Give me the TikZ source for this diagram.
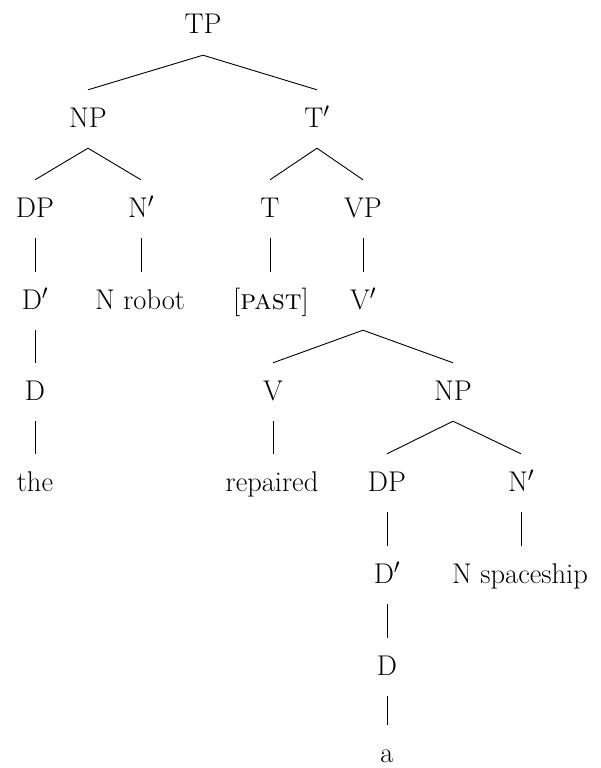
\documentclass[tikz,border=0pt]{standalone}
\begin{document}
\begin{tikzpicture}[x=1pt,y=-1pt,
  lab/.style={anchor=base, inner xsep=2pt, inner ysep=18pt, text height=19pt, text depth=3pt, font=\fontsize{28.5}{31}\selectfont},
  leaf/.style={lab, inner ysep=0pt, text depth=0pt},
  edge/.style={line width=0.9pt}]
\useasboundingbox (0,0) rectangle (601,768);
% row 0
\node[lab] (TP) at (203,34) {TP};
% row 1
\node[lab] (NP1) at (88,127) {NP};
\node[lab] (Tb) at (317,127) {T$'$};
% row 2
\node[lab] (DP1) at (35,217) {DP};
\node[lab] (Nb1) at (141,217) {N$'$};
\node[lab] (T) at (270,217) {T};
\node[lab] (VP) at (363,217) {VP};
% row 3
\node[lab] (Db1) at (35,309) {D$'$};
\node[lab] (Nrobot) at (140,309) {N robot};
\node[lab] (past) at (271,309) {[\textsc{past}]};
\node[lab] (Vb) at (363,309) {V$'$};
% row 4
\node[lab] (D1) at (35,400) {D};
\node[lab] (V) at (273,400) {V};
\node[lab] (NP2) at (453,400) {NP};
% row 5
\node[lab] (the) at (35,491) {the};
\node[lab] (repaired) at (272,491) {repaired};
\node[lab] (DP2) at (387,491) {DP};
\node[lab] (Nb2) at (521,491) {N$'$};
% row 6
\node[lab] (Db2) at (387,583) {D$'$};
\node[lab] (Nspace) at (520,583) {N spaceship};
% row 7
\node[lab] (D2) at (387,675) {D};
% row 8
\node[leaf] (a) at (387,762) {a};
% edges
\draw[edge] (TP.south) -- (NP1.north);
\draw[edge] (TP.south) -- (Tb.north);
\draw[edge] (NP1.south) -- (DP1.north);
\draw[edge] (NP1.south) -- (Nb1.north);
\draw[edge] (Tb.south) -- (T.north);
\draw[edge] (Tb.south) -- (VP.north);
\draw[edge] (DP1.south) -- (DP1.south |- Db1.north);
\draw[edge] (Nb1.south) -- (Nb1.south |- Nrobot.north);
\draw[edge] (T.south) -- (T.south |- past.north);
\draw[edge] (VP.south) -- (VP.south |- Vb.north);
\draw[edge] (Db1.south) -- (Db1.south |- D1.north);
\draw[edge] (D1.south) -- (D1.south |- the.north);
\draw[edge] (Vb.south) -- (V.north);
\draw[edge] (Vb.south) -- (NP2.north);
\draw[edge] (V.south) -- (V.south |- repaired.north);
\draw[edge] (NP2.south) -- (DP2.north);
\draw[edge] (NP2.south) -- (Nb2.north);
\draw[edge] (DP2.south) -- (DP2.south |- Db2.north);
\draw[edge] (Nb2.south) -- (Nb2.south |- Nspace.north);
\draw[edge] (Db2.south) -- (Db2.south |- D2.north);
\draw[edge] (D2.south) -- ([yshift=18pt]D2.south |- a.north);
\end{tikzpicture}
\end{document}
